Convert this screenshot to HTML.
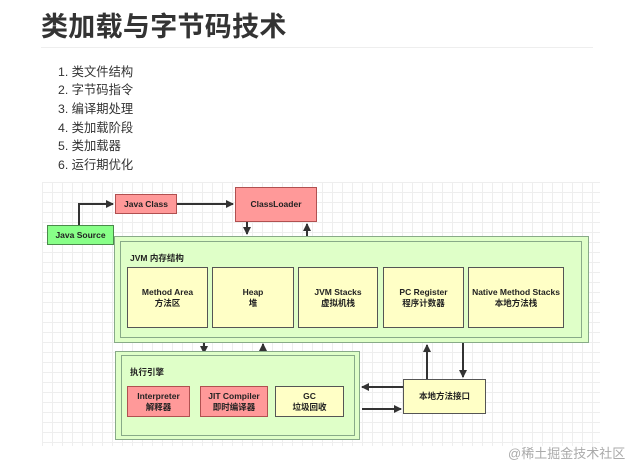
<!DOCTYPE html>
<html><head><meta charset="utf-8"><style>
body{margin:0;width:643px;height:473px;background:#fff;position:relative;overflow:hidden;font-family:"Liberation Sans","Noto Sans CJK SC",sans-serif;}
.a{position:absolute;}
.b{position:absolute;box-sizing:border-box;border:1.3px solid #555;display:flex;flex-direction:column;align-items:center;justify-content:center;font-size:8.5px;font-weight:bold;color:#222;text-align:center;line-height:11px;}
.r{background:#f99;border-color:#b05050;}
.y{background:#ffffc6;border-color:#555;}
.g{background:#8f8;border-color:#4a8a4a;}
.li{position:absolute;left:58px;font-size:12.3px;color:#333;}
</style></head><body>
<div class="a" style="left:41px;top:5px;font-size:27px;font-weight:bold;color:#333;letter-spacing:0.3px;">类加载与字节码技术</div>
<div class="a" style="left:41px;top:47px;width:552px;height:1px;background:#eee;"></div>
<div class="li" style="top:62px">1. 类文件结构</div>
<div class="li" style="top:80px">2. 字节码指令</div>
<div class="li" style="top:99px">3. 编译期处理</div>
<div class="li" style="top:118px">4. 类加载阶段</div>
<div class="li" style="top:136px">5. 类加载器</div>
<div class="li" style="top:155px">6. 运行期优化</div>
<div class="a" style="left:42px;top:182px;width:558px;height:264px;background-color:#fff;background-image:linear-gradient(#eee 1px,transparent 1px),linear-gradient(90deg,#eee 1px,transparent 1px);background-size:10px 10px;"></div>
<svg class="a" style="left:0;top:0" width="643" height="473">
<defs><marker id="m" markerWidth="8" markerHeight="8" refX="7" refY="4" orient="auto" markerUnits="userSpaceOnUse"><path d="M0,0L8,4L0,8z" fill="#333"/></marker></defs>
<g stroke="#333" stroke-width="2" fill="none">
<path d="M79,225V204H113" marker-end="url(#m)"/>
<path d="M177,204H233" marker-end="url(#m)"/>
<path d="M247,222V234" marker-end="url(#m)"/>
<path d="M307,236V224" marker-end="url(#m)"/>
<path d="M204,343V353" marker-end="url(#m)"/>
<path d="M263,353V344" marker-end="url(#m)"/>
<path d="M427,379V345" marker-end="url(#m)"/>
<path d="M463,343V377" marker-end="url(#m)"/>
<path d="M403,387H362" marker-end="url(#m)"/>
<path d="M362,409H401" marker-end="url(#m)"/>
</g></svg>
<div class="b r" style="left:115px;top:194px;width:62px;height:20px;">Java Class</div>
<div class="b r" style="left:235px;top:187px;width:82px;height:35px;">ClassLoader</div>
<div class="b g" style="left:47px;top:225px;width:67px;height:20px;">Java Source</div>
<div class="a" style="left:114px;top:236px;width:475px;height:107px;box-sizing:border-box;border:1px solid #8a8;background:#dfffc8;"></div>
<div class="a" style="left:120px;top:241px;width:462px;height:97px;box-sizing:border-box;border:1px solid #8a8;"></div>
<div class="a" style="left:130px;top:252px;font-size:8.5px;font-weight:bold;color:#222;">JVM 内存结构</div>
<div class="b y" style="left:127px;top:267px;width:81px;height:61px;">Method Area<br>方法区</div>
<div class="b y" style="left:212px;top:267px;width:82px;height:61px;">Heap<br>堆</div>
<div class="b y" style="left:298px;top:267px;width:80px;height:61px;">JVM Stacks<br>虚拟机栈</div>
<div class="b y" style="left:383px;top:267px;width:81px;height:61px;">PC Register<br>程序计数器</div>
<div class="b y" style="left:468px;top:267px;width:96px;height:61px;">Native Method Stacks<br>本地方法栈</div>
<div class="a" style="left:115px;top:351px;width:245px;height:89px;box-sizing:border-box;border:1px solid #8a8;background:#dfffc8;"></div>
<div class="a" style="left:121px;top:355px;width:234px;height:81px;box-sizing:border-box;border:1px solid #8a8;"></div>
<div class="a" style="left:130px;top:366px;font-size:8.5px;font-weight:bold;color:#222;">执行引擎</div>
<div class="b r" style="left:127px;top:386px;width:63px;height:31px;">Interpreter<br>解释器</div>
<div class="b r" style="left:200px;top:386px;width:68px;height:31px;">JIT Compiler<br>即时编译器</div>
<div class="b y" style="left:275px;top:386px;width:69px;height:31px;">GC<br>垃圾回收</div>
<div class="b y" style="left:403px;top:379px;width:83px;height:35px;">本地方法接口</div>
<div class="a" style="left:508px;top:443px;font-size:13px;color:#aaa;">@稀土掘金技术社区</div>
</body></html>
